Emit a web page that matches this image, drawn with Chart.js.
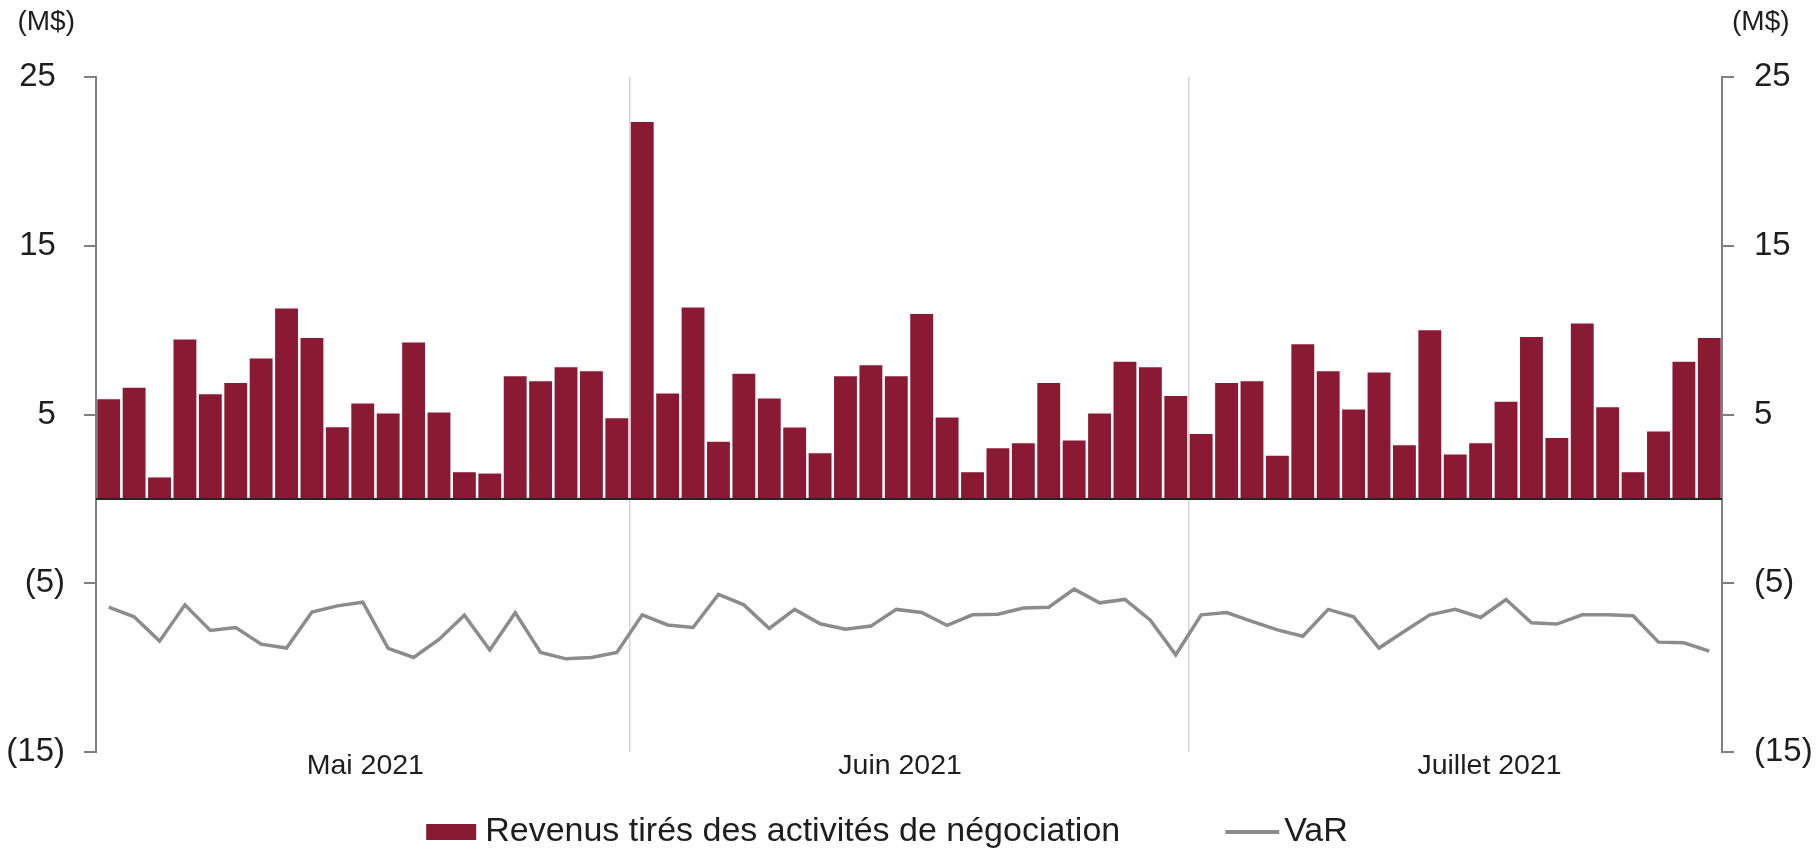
<!DOCTYPE html>
<html lang="fr">
<head>
<meta charset="utf-8">
<title>Revenus tirés des activités de négociation et VaR</title>
<script src="https://cdn.jsdelivr.net/npm/chart.js"></script>
<style>
  html, body { margin: 0; padding: 0; background: #ffffff; }
  #wrap { width: 1819px; height: 857px; }
</style>
</head>
<body>
<div id="wrap"><canvas id="chart" width="1819" height="857"></canvas></div>
<script>
// Trading days per month and month names shown on the time axis
const monthNames = ['Mai 2021', 'Juin 2021', 'Juillet 2021'];
const tradingDaysPerMonth = [21, 22, 21];

// Daily trading revenue (M$)
const tradingRevenue = [
  5.90, 6.58, 1.27, 9.44, 6.20, 6.87, 8.32, 11.28, 9.54, 4.25, 5.65,
  5.06, 9.26, 5.12, 1.58, 1.50, 7.27, 6.97, 7.80, 7.57, 4.78,
  22.33, 6.24, 11.34, 3.38, 7.41, 5.95, 4.23, 2.71, 7.27, 7.92, 7.27,
  10.96, 4.82, 1.58, 3.00, 3.30, 6.87, 3.46, 5.06, 8.12, 7.80, 6.10,
  3.85, 6.87, 6.97, 2.55, 9.16, 7.57, 5.30, 7.49, 3.18, 10.00, 2.63,
  3.30, 5.75, 9.60, 3.61, 10.39, 5.43, 1.58, 3.99, 8.12, 9.54
];

// Daily value at risk (M$)
const valueAtRisk = [
  -6.42, -6.99, -8.43, -6.28, -7.80, -7.62, -8.61, -8.84, -6.71, -6.34, -6.12,
  -8.86, -9.40, -8.33, -6.89, -8.96, -6.75, -9.10, -9.48, -9.40, -9.10,
  -6.87, -7.47, -7.62, -5.66, -6.28, -7.68, -6.55, -7.40, -7.72, -7.54, -6.55,
  -6.73, -7.50, -6.87, -6.83, -6.47, -6.42, -5.35, -6.16, -5.96, -7.19, -9.24,
  -6.87, -6.74, -7.26, -7.76, -8.14, -6.55, -6.99, -8.84, -7.84, -6.87, -6.55,
  -7.03, -5.96, -7.34, -7.42, -6.87, -6.87, -6.93, -8.49, -8.53, -9.02
];

// Value axis range and tick spacing (M$)
const axisMin = -15;
const axisMax = 25;
const axisStep = 10;

const seriesNames = ['Revenus tirés des activités de négociation', 'VaR'];
const unitText = '(M$)';

// One category per trading day, tagged by month
const categories = [];
monthNames.forEach((m, mi) => {
  for (let d = 1; d <= tradingDaysPerMonth[mi]; d++) categories.push(m + ' – j' + d);
});

// Index of the first trading day of each month (month separators)
const monthStarts = [];
tradingDaysPerMonth.reduce((acc, n) => { monthStarts.push(acc); return acc + n; }, 0);

// Where each month name sits along the day axis
const monthLabelAt = [10.1, 31.15, 54.35];

const FONT = '"Liberation Sans", Arial, sans-serif';
const TEXT = '#1e1e1e';
const BAR = '#8a1934';
const LINE = '#8c8c8c';
const AXIS = '#808080';

// Negative values in accounting style, positives padded to line up with ")"
const fmt = v => (v < 0 ? '(' + (-v) + ')' : v + ' ');

const zeroLine = {
  id: 'zeroLine',
  afterDatasetsDraw(chart) {
    const {ctx, chartArea, scales} = chart;
    const y0 = scales.y.getPixelForValue(0);
    ctx.save();
    ctx.strokeStyle = '#262626';
    ctx.lineWidth = 2;
    ctx.beginPath();
    ctx.moveTo(chartArea.left, y0);
    ctx.lineTo(chartArea.right, y0);
    ctx.stroke();
    ctx.restore();
  }
};

const unitLabels = {
  id: 'unitLabels',
  afterDraw(chart) {
    const {ctx, scales} = chart;
    ctx.save();
    ctx.font = '28px ' + FONT;
    ctx.fillStyle = TEXT;
    ctx.textBaseline = 'middle';
    ctx.textAlign = 'right';
    ctx.fillText(unitText, scales.y.right - 21, 22);
    ctx.textAlign = 'left';
    ctx.fillText(unitText, scales.y2.left + 10, 22);
    ctx.restore();
  }
};

// Legend row under the time axis: filled swatch for bars, stroke for the line
const legendRow = {
  id: 'legendRow',
  afterDraw(chart) {
    const {ctx} = chart;
    const fontSize = 34;
    const y = 832;
    const itemGap = 105;
    ctx.save();
    ctx.font = fontSize + 'px ' + FONT;
    const items = chart.data.datasets.map(ds => {
      const isLine = ds.type === 'line';
      return {
        text: ds.label,
        isLine,
        color: isLine ? ds.borderColor : ds.backgroundColor,
        symW: isLine ? 54 : 50,
        gap: isLine ? 5 : 9,
        textW: ctx.measureText(ds.label).width
      };
    });
    const total = items.reduce((s, it) => s + it.symW + it.gap + it.textW, 0) + itemGap * (items.length - 1);
    let x = 887 - total / 2;
    ctx.textBaseline = 'middle';
    ctx.textAlign = 'left';
    items.forEach(it => {
      if (it.isLine) {
        ctx.strokeStyle = it.color;
        ctx.lineWidth = 4;
        ctx.beginPath();
        ctx.moveTo(x, y);
        ctx.lineTo(x + it.symW, y);
        ctx.stroke();
      } else {
        ctx.fillStyle = it.color;
        ctx.fillRect(x, y - 8, it.symW, 16);
      }
      x += it.symW + it.gap;
      ctx.fillStyle = TEXT;
      ctx.fillText(it.text, x, y);
      x += it.textW + itemGap;
    });
    ctx.restore();
  }
};

const valueAxis = (position, pad, width) => ({
  type: 'linear',
  position,
  min: axisMin,
  max: axisMax,
  afterFit(scale) { scale.width = width; },
  ticks: {
    stepSize: axisStep,
    padding: pad,
    color: TEXT,
    font: { family: FONT, size: 33 },
    callback: v => fmt(v)
  },
  grid: {
    drawOnChartArea: false,
    drawTicks: true,
    tickLength: 12,
    color: AXIS,
    lineWidth: 2
  },
  border: { display: true, color: AXIS, width: 2 }
});

new Chart(document.getElementById('chart'), {
  data: {
    labels: categories,
    datasets: [
      {
        type: 'bar',
        label: seriesNames[0],
        data: tradingRevenue,
        backgroundColor: BAR,
        borderWidth: 0,
        barPercentage: 0.9,
        categoryPercentage: 1.0,
        yAxisID: 'y',
        order: 2
      },
      {
        type: 'line',
        label: seriesNames[1],
        data: valueAtRisk,
        borderColor: LINE,
        backgroundColor: LINE,
        borderWidth: 3.5,
        pointRadius: 0,
        tension: 0,
        fill: false,
        yAxisID: 'y',
        order: 1
      }
    ]
  },
  options: {
    responsive: false,
    animation: false,
    devicePixelRatio: 1,
    events: [],
    layout: { padding: { top: 77, bottom: 75, left: 0, right: 0 } },
    plugins: {
      legend: { display: false },
      tooltip: { enabled: false },
      title: { display: false }
    },
    scales: {
      x: {
        type: 'category',
        position: 'bottom',
        offset: true,
        afterFit(scale) { scale.height = 0; },
        ticks: { display: false },
        grid: {
          offset: true,
          drawTicks: false,
          lineWidth: 1.5,
          color: ctx => (monthStarts.includes(ctx.index) && ctx.index > 0 ? '#d6d6d6' : 'rgba(0,0,0,0)')
        },
        border: { display: false }
      },
      xMonth: {
        type: 'linear',
        position: 'bottom',
        min: -0.5,
        max: categories.length - 0.5,
        afterFit(scale) { scale.height = 30; },
        afterBuildTicks(scale) { scale.ticks = monthLabelAt.map(v => ({ value: v })); },
        ticks: {
          autoSkip: false,
          maxRotation: 0,
          padding: 3,
          color: TEXT,
          font: { family: FONT, size: 28.5, lineHeight: 0.8 },
          callback: (v, i) => monthNames[i]
        },
        grid: { display: false, drawTicks: false },
        border: { display: false }
      },
      y: valueAxis('left', 19, 96),
      y2: valueAxis('right', 20, 97)
    }
  },
  plugins: [zeroLine, unitLabels, legendRow]
});
</script>
</body>
</html>
